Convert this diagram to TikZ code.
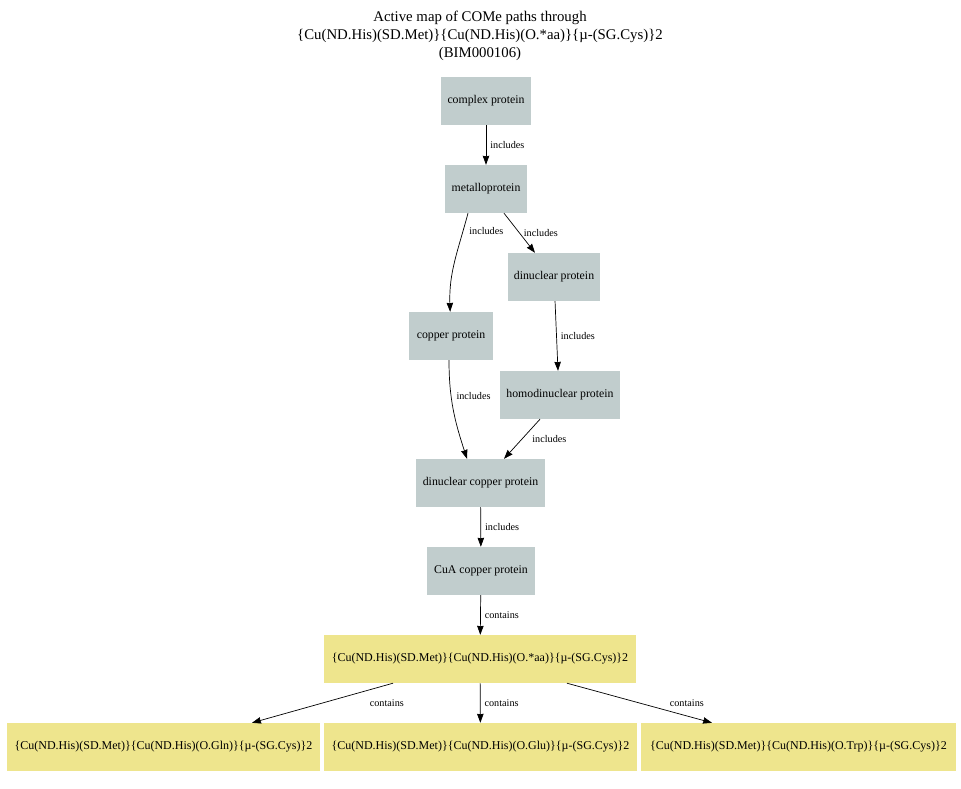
\documentclass[tikz,border=0pt]{standalone}
\usepackage{fontspec}
\setmainfont{Liberation Serif}
\usetikzlibrary{arrows.meta,positioning}

\begin{document}
\begin{tikzpicture}[x=1pt, y=1pt, >={Stealth[length=9pt,width=6.5pt,inset=0.5pt]},
  cls/.style={fill=clsgray, inner sep=0pt, minimum height=48pt, font=\fontsize{11.8}{14}\selectfont},
  site/.style={fill=siteyellow, inner sep=0pt, minimum height=48pt, font=\fontsize{12}{14}\selectfont},
  lbl/.style={font=\fontsize{10.2}{12}\selectfont, inner sep=2pt},
  every to/.style={line width=0.7pt}]
  \definecolor{clsgray}{HTML}{C1CDCD}
  \definecolor{siteyellow}{HTML}{EEE58D}
  \useasboundingbox (0,0) rectangle (961,-788);

  % Define coordinates for nodes
  \node (title) at (480,-36) [align=center, font=\fontsize{14.8}{18}\selectfont]
    {Active map of COMe paths through\\\{Cu(ND.His)(SD.Met)\}\{Cu(ND.His)(O.*aa)\}\{µ-(SG.Cys)\}2\\(BIM000106)};
  \node[cls, minimum width=90pt] (CP) at (486,-101) {complex protein};
  \node[cls, minimum width=82pt] (MP) at (486,-189) {metalloprotein};
  \node[cls, minimum width=92pt] (DP) at (554,-277) {dinuclear protein};
  \node[cls, minimum width=84pt] (Cu) at (451,-336) {copper protein};
  \node[cls, minimum width=120pt] (HDP) at (560,-395) {homodinuclear protein};
  \node[cls, minimum width=129pt] (DCu) at (480.5,-483) {dinuclear copper protein};
  \node[cls, minimum width=108pt] (CuA) at (481,-571) {CuA copper protein};
  \node[site, minimum width=312pt] (S0) at (480,-659) {\{Cu(ND.His)(SD.Met)\}\{Cu(ND.His)(O.*aa)\}\{µ-(SG.Cys)\}2};
  \node[site, minimum width=313pt] (S1) at (163.5,-747) {\{Cu(ND.His)(SD.Met)\}\{Cu(ND.His)(O.Gln)\}\{µ-(SG.Cys)\}2};
  \node[site, minimum width=313pt] (S2) at (480.5,-747) {\{Cu(ND.His)(SD.Met)\}\{Cu(ND.His)(O.Glu)\}\{µ-(SG.Cys)\}2};
  \node[site, minimum width=315pt] (S3) at (798.5,-747) {\{Cu(ND.His)(SD.Met)\}\{Cu(ND.His)(O.Trp)\}\{µ-(SG.Cys)\}2};

  % Draw arrows between nodes
  \draw[->, line width=0.7pt] (CP) to node[lbl, right=2pt] {includes} (MP);
  \draw[->, line width=0.7pt] ([xshift=-18pt]MP.south) to[out=-105, in=92] node[lbl, pos=0.17, right=4pt] {includes} (Cu);
  \draw[->, line width=0.7pt] ([xshift=18pt]MP.south) to node[lbl, right=2pt] {includes} ([xshift=-19pt]DP.north);
  \draw[->, line width=0.7pt] (DP) to node[lbl, right=2pt] {includes} ([xshift=-2pt]HDP.north);
  \draw[->, line width=0.7pt] ([xshift=-2pt]Cu.south) to[out=-90, in=108] node[lbl, pos=0.35, right=3pt] {includes} ([xshift=-13.5pt]DCu.north);
  \draw[->, line width=0.7pt] ([xshift=-20pt]HDP.south) to node[lbl, pos=0.5, right=8pt] {includes} ([xshift=23.5pt]DCu.north);
  \draw[->, line width=0.7pt] (DCu) to node[lbl, right=2pt] {includes} (CuA);
  \draw[->, line width=0.7pt] (CuA) to node[lbl, right=2pt] {contains} (S0);
  \draw[->, line width=0.7pt] ([xshift=-87pt]S0.south) to node[lbl, right=45pt] {contains} ([xshift=88.5pt]S1.north);
  \draw[->, line width=0.7pt] (S0) to node[lbl, right=2pt] {contains} (S2);
  \draw[->, line width=0.7pt] ([xshift=87pt]S0.south) to node[lbl, right=28pt] {contains} ([xshift=-86.5pt]S3.north);
\end{tikzpicture}
\end{document}
